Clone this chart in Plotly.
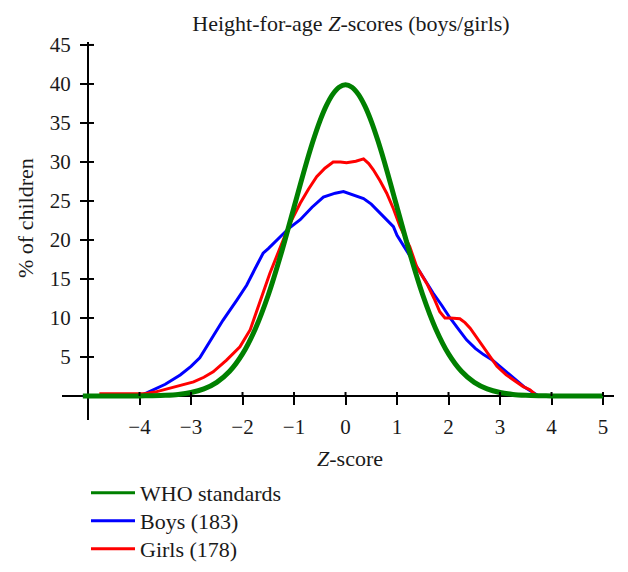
import plotly.graph_objects as go

# ---- data ----
who_x = [-5.1, -4.5, -4.0, -3.75, -3.5, -3.25, -3.0, -2.75, -2.5, -2.25, -2.0, -1.75, -1.5, -1.25,
         -1.0, -0.875, -0.75, -0.625, -0.5, -0.375, -0.25, -0.125, 0.0, 0.125, 0.25, 0.375, 0.5,
         0.625, 0.75, 0.875, 1.0, 1.25, 1.5, 1.75, 2.0, 2.25, 2.5,
         2.75, 3.0, 3.25, 3.5, 3.75, 4.0, 4.5, 5.0]
who_y = [0.0, 0.0, 0.01, 0.04, 0.09, 0.2, 0.44, 0.91, 1.75, 3.17, 5.4, 8.63, 12.95, 18.26,
         24.2, 27.19, 30.11, 32.81, 35.21, 37.19, 38.67, 39.58, 39.89, 39.58, 38.67, 37.19, 35.21,
         32.81, 30.11, 27.19, 24.2, 18.26, 12.95, 8.63, 5.4, 3.17, 1.75,
         0.91, 0.44, 0.2, 0.09, 0.04, 0.01, 0.0, 0.0]

boys_x = [-5.1, -4.0, -3.86, -3.5, -3.21, -3.0, -2.83, -2.57, -2.38, -2.11, -1.92, -1.75, -1.6, -1.5,
          -1.27, -1.1, -0.88, -0.65, -0.43, -0.2, -0.04, 0.15, 0.35, 0.5, 0.73, 0.93, 1.0, 1.19,
          1.38, 1.55, 1.7, 1.87, 2.03, 2.2, 2.35, 2.52, 2.68, 2.85, 3.0, 3.15, 3.32, 3.48, 3.62,
          3.75, 5.0]
boys_y = [0.0, 0.0, 0.4, 1.5, 2.7, 3.8, 4.9, 7.6, 9.7, 12.3, 14.2, 16.4, 18.3, 18.9,
          20.4, 21.5, 22.6, 24.2, 25.5, 26.0, 26.2, 25.8, 25.3, 24.6, 23.0, 21.7, 20.6, 18.6,
          16.6, 14.8, 13.2, 11.6, 10.0, 8.5, 7.2, 6.1, 5.3, 4.6, 3.8, 2.9, 2.0, 1.1, 0.5,
          0.0, 0.0]

girls_x = [-4.78, -3.9, -3.7, -3.41, -3.2, -2.95, -2.75, -2.57, -2.31, -2.05, -1.85, -1.75, -1.63,
           -1.47, -1.21, -1.05, -0.88, -0.72, -0.56, -0.4, -0.24, -0.1, 0.02, 0.2, 0.35, 0.45, 0.54,
           0.67, 0.8, 0.93, 1.06, 1.25, 1.38, 1.58, 1.72, 1.83, 1.93, 2.03, 2.22, 2.32, 2.42, 2.55,
           2.68, 2.81, 2.94, 3.12, 3.32, 3.45, 3.58, 3.7, 3.8, 5.0]
girls_y = [0.3, 0.3, 0.5, 1.0, 1.4, 1.8, 2.4, 3.1, 4.6, 6.3, 8.5, 10.4, 12.7,
           15.7, 20.0, 22.5, 24.7, 26.5, 28.1, 29.2, 30.0, 30.0, 29.9, 30.1, 30.4, 29.8, 29.0,
           27.6, 26.0, 24.0, 21.7, 19.1, 16.6, 14.4, 12.5, 10.8, 10.0, 10.0, 9.9, 9.4, 8.7, 7.5,
           6.3, 5.0, 3.8, 2.7, 1.8, 1.2, 0.8, 0.1, 0.0, 0.0]

x_ticks = [-4, -3, -2, -1, 0, 1, 2, 3, 4, 5]
y_ticks = [5, 10, 15, 20, 25, 30, 35, 40, 45]

series_names = ["WHO standards", "Boys (183)", "Girls (178)"]
series_colors = ["#008000", "#0000ff", "#ff0000"]
title_text = "Height-for-age <i>Z</i>-scores (boys/girls)"
x_title = "<i>Z</i>-score"
y_title = "% of children"

FONT = "Liberation Serif"
TXT = "#1a1a1a"
X_RANGE = [-5.505, 5.213]
Y_RANGE = [-3.08, 45.38]
Y_AXIS_AT = -5.0

OFF = 8                      # page body margin of the browser
W, H = 628 - 2 * OFF, 572 - 2 * OFF
# plot-area edges in page pixels: left 62, right 614, top 42, bottom 420
ML, MT = 62 - OFF, 42 - OFF
MR = W - (614 - OFF)
MB = H - (420 - OFF)
PW, PH = W - ML - MR, H - MT - MB


def cx(px):  # page x pixel -> container fraction
    return (px - OFF) / W


def cy(py):  # page y pixel -> container fraction (from bottom)
    return 1 - (py - OFF) / H


fig = go.Figure()
fig.add_trace(go.Scatter(x=boys_x, y=boys_y, mode="lines", name=series_names[1], showlegend=False,
                         line=dict(color=series_colors[1], width=3)))
fig.add_trace(go.Scatter(x=girls_x, y=girls_y, mode="lines", name=series_names[2], showlegend=False,
                         line=dict(color=series_colors[2], width=3)))
fig.add_trace(go.Scatter(x=who_x, y=who_y, mode="lines", name=series_names[0], showlegend=False,
                         line=dict(color=series_colors[0], width=5, shape="spline", smoothing=0.8)))

# legend entries, one small legend per row to match the row spacing
legend_rows = [493, 521, 549]
legend_ids = ["legend", "legend2", "legend3"]
legend_layout = {}
for name, col, lid, row in zip(series_names, series_colors, legend_ids, legend_rows):
    fig.add_trace(go.Scatter(x=[None], y=[None], mode="lines", name=name, legend=lid,
                             line=dict(color=col, width=3), hoverinfo="skip"))
    legend_layout[lid] = dict(x=cx(86), y=cy(row), xref="container", yref="container",
                              xanchor="left", yanchor="middle",
                              font=dict(family=FONT, size=22, color=TXT),
                              bgcolor="rgba(0,0,0,0)", itemwidth=44)

xpos = (0 - Y_RANGE[0]) / (Y_RANGE[1] - Y_RANGE[0])
ypos = (Y_AXIS_AT - X_RANGE[0]) / (X_RANGE[1] - X_RANGE[0])

axis_common = dict(showline=True, linecolor="black", linewidth=2, ticks="outside",
                   tickwidth=2, tickcolor="black", showgrid=False, zeroline=False,
                   automargin=False, layer="below traces",
                   tickfont=dict(family=FONT, size=21, color=TXT))

fig.update_layout(
    width=W, height=H,
    margin=dict(l=ML, r=MR, t=MT, b=MB, autoexpand=False),
    plot_bgcolor="white", paper_bgcolor="white",
    font=dict(family=FONT, size=20, color=TXT),
    xaxis=dict(range=X_RANGE, anchor="free", position=xpos, tickvals=x_ticks, ticklen=8,
               ticklabelstandoff=4, **axis_common),
    yaxis=dict(range=Y_RANGE, anchor="free", position=ypos, tickvals=y_ticks, ticklen=7,
               ticklabelstandoff=5, **axis_common),
    title=dict(text=title_text, x=cx(351), xref="container", xanchor="center",
               y=cy(23), yref="container", yanchor="middle",
               font=dict(family=FONT, size=22, color=TXT)),
    showlegend=True,
    **legend_layout,
)

# axis titles
fig.add_annotation(text=x_title, xref="paper", yref="paper",
                   x=(350 - OFF - ML) / PW, y=(H - MB - (458 - OFF)) / PH,
                   showarrow=False, xanchor="center", yanchor="middle",
                   font=dict(family=FONT, size=22, color=TXT))
fig.add_annotation(text=y_title, xref="paper", yref="paper",
                   x=(25 - OFF - ML) / PW, y=(H - MB - (218 - OFF)) / PH,
                   showarrow=False, textangle=-90, xanchor="center", yanchor="middle",
                   font=dict(family=FONT, size=22, color=TXT))

# inner halves of the crossing tick marks
px_per_y = PH / (Y_RANGE[1] - Y_RANGE[0])
px_per_x = PW / (X_RANGE[1] - X_RANGE[0])
for t in x_ticks:
    fig.add_shape(type="line", xref="x", yref="y", x0=t, x1=t, y0=0, y1=4 / px_per_y,
                  line=dict(color="black", width=2), layer="above")
for t in y_ticks:
    fig.add_shape(type="line", xref="x", yref="y", x0=Y_AXIS_AT, x1=Y_AXIS_AT + 6 / px_per_x,
                  y0=t, y1=t, line=dict(color="black", width=2), layer="above")

fig.write_html("out.html")
